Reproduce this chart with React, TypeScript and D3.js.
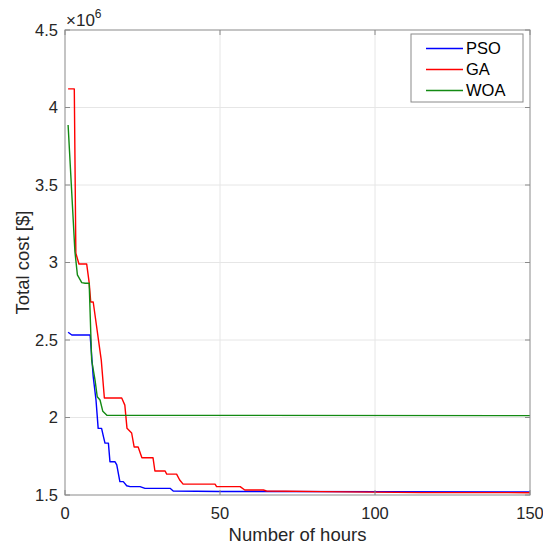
import { useEffect, useRef } from 'react';
import * as d3 from 'd3';

// convergence curves, [iteration, cost in 1e6 $]
const psoData: [number, number][] = [
  [1, 2.55], [2.2, 2.532], [8.1, 2.532], [9.1, 2.263], [10, 2.113], [10.7, 1.93],
  [11.8, 1.93], [12.4, 1.876], [12.9, 1.835], [14, 1.835], [14.5, 1.715], [16.1, 1.715],
  [16.7, 1.694], [17.7, 1.586], [18.8, 1.586], [19.9, 1.56], [21, 1.554], [24.2, 1.554],
  [25.8, 1.543], [33.9, 1.543], [34.9, 1.526], [50, 1.523], [150, 1.52],
];
const gaData: [number, number][] = [
  [1, 4.12], [3, 4.12], [3.5, 3.06], [4.5, 2.99], [7, 2.99], [7.8, 2.87], [8.3, 2.745],
  [9.1, 2.745], [11.7, 2.37], [12.7, 2.126], [18.3, 2.126], [19.3, 2.08], [20, 1.93],
  [21.5, 1.9], [22.3, 1.81], [23.6, 1.81], [24.8, 1.74], [28.4, 1.74], [29, 1.655],
  [32.3, 1.655], [32.8, 1.635], [36, 1.635], [37, 1.597], [38.1, 1.57], [48.4, 1.57],
  [48.9, 1.554], [56.5, 1.554], [58, 1.532], [64, 1.532], [65, 1.526], [83, 1.522],
  [115, 1.515], [150, 1.515],
];
const woaData: [number, number][] = [
  [1, 3.887], [3.2, 3.07], [4, 2.92], [5.4, 2.87], [6.5, 2.866], [7.8, 2.866], [8.6, 2.37],
  [9.7, 2.24], [10.4, 2.134], [11.3, 2.113], [12.2, 2.04], [13.5, 2.015], [150, 2.012],
];

const seriesNames = ['PSO', 'GA', 'WOA'];
const seriesColors = ['#0000ff', '#ff0000', '#138a13'];
const xTicks = [0, 50, 100, 150];
const yTicks = [1.5, 2, 2.5, 3, 3.5, 4, 4.5];

export default function App() {
  const svgRef = useRef<SVGSVGElement>(null);

  useEffect(() => {
    if (!svgRef.current) return;
    const svg = d3.select(svgRef.current);
    svg.selectAll('*').remove();

    const width = 543;
    const height = 546;
    const left = 65, right = 530, top = 30, bottom = 495;
    const font = 'Liberation Sans, Arial, sans-serif';
    const textColor = '#262626';
    const boxColor = '#8a8a8a';

    svg.attr('width', width).attr('height', height);
    svg.append('rect').attr('width', width).attr('height', height).attr('fill', '#fff');

    const x = d3.scaleLinear().domain([0, 150]).range([left, right]);
    const y = d3.scaleLinear().domain([1.5, 4.5]).range([bottom, top]);

    // grid
    svg.append('g')
      .selectAll('line')
      .data(xTicks.slice(1, -1))
      .join('line')
      .attr('x1', d => x(d)).attr('x2', d => x(d))
      .attr('y1', top).attr('y2', bottom)
      .attr('stroke', '#e6e6e6').attr('stroke-width', 1);
    svg.append('g')
      .selectAll('line')
      .data(yTicks.slice(1, -1))
      .join('line')
      .attr('x1', left).attr('x2', right)
      .attr('y1', d => y(d)).attr('y2', d => y(d))
      .attr('stroke', '#e6e6e6').attr('stroke-width', 1);

    // curves
    const line = d3.line<[number, number]>()
      .x(d => x(d[0]))
      .y(d => y(d[1]));
    [psoData, gaData, woaData].forEach((data, i) => {
      svg.append('path')
        .datum(data)
        .attr('d', line)
        .attr('fill', 'none')
        .attr('stroke', seriesColors[i])
        .attr('stroke-width', 1.4)
        .attr('stroke-linejoin', 'round');
    });

    // box + inward ticks
    svg.append('rect')
      .attr('x', left).attr('y', top)
      .attr('width', right - left).attr('height', bottom - top)
      .attr('fill', 'none').attr('stroke', boxColor).attr('stroke-width', 1);
    const tickLen = 5;
    const ticks = svg.append('g').attr('stroke', boxColor).attr('stroke-width', 1);
    xTicks.forEach(t => {
      ticks.append('line').attr('x1', x(t)).attr('x2', x(t)).attr('y1', bottom).attr('y2', bottom - tickLen);
      ticks.append('line').attr('x1', x(t)).attr('x2', x(t)).attr('y1', top).attr('y2', top + tickLen);
    });
    yTicks.forEach(t => {
      ticks.append('line').attr('x1', left).attr('x2', left + tickLen).attr('y1', y(t)).attr('y2', y(t));
      ticks.append('line').attr('x1', right).attr('x2', right - tickLen).attr('y1', y(t)).attr('y2', y(t));
    });

    // tick labels
    svg.append('g')
      .selectAll('text')
      .data(xTicks)
      .join('text')
      .attr('x', d => x(d))
      .attr('y', bottom + 24)
      .attr('text-anchor', 'middle')
      .style('font-family', font)
      .style('font-size', '16.5px')
      .style('fill', textColor)
      .text(d => d);
    svg.append('g')
      .selectAll('text')
      .data(yTicks)
      .join('text')
      .attr('x', left - 7)
      .attr('y', d => y(d))
      .attr('dy', '0.35em')
      .attr('text-anchor', 'end')
      .style('font-family', font)
      .style('font-size', '16.5px')
      .style('fill', textColor)
      .text(d => d);

    // exponent
    const expo = svg.append('text')
      .attr('x', left + 1)
      .attr('y', top - 4)
      .style('font-family', font)
      .style('font-size', '17px')
      .style('fill', textColor);
    expo.append('tspan').text('\u00d710');
    expo.append('tspan').attr('dy', -8).style('font-size', '12px').text('6');

    // axis titles
    svg.append('text')
      .attr('x', (left + right) / 2)
      .attr('y', bottom + 46)
      .attr('text-anchor', 'middle')
      .style('font-family', font)
      .style('font-size', '18.5px')
      .style('fill', textColor)
      .text('Number of hours');
    svg.append('text')
      .attr('transform', `translate(${29}, ${(top + bottom) / 2}) rotate(-90)`)
      .attr('text-anchor', 'middle')
      .style('font-family', font)
      .style('font-size', '18.5px')
      .style('fill', textColor)
      .text('Total cost [$]');

    // legend
    const legend = svg.append('g');
    legend.append('rect')
      .attr('x', 411).attr('y', 34)
      .attr('width', 112).attr('height', 68)
      .attr('fill', '#fff').attr('stroke', boxColor).attr('stroke-width', 1);
    seriesNames.forEach((name, i) => {
      const ly = 48.5 + i * 21;
      legend.append('line')
        .attr('x1', 426).attr('x2', 463)
        .attr('y1', ly).attr('y2', ly)
        .attr('stroke', seriesColors[i]).attr('stroke-width', 1.4);
      legend.append('text')
        .attr('x', 466)
        .attr('y', ly)
        .attr('dy', '0.35em')
        .style('font-family', font)
        .style('font-size', '16.5px')
        .style('fill', '#000')
        .text(name);
    });
  }, []);

  return (
    <div>
      <svg ref={svgRef} style={{ position: 'absolute', left: 0, top: 0 }} />
    </div>
  );
}
